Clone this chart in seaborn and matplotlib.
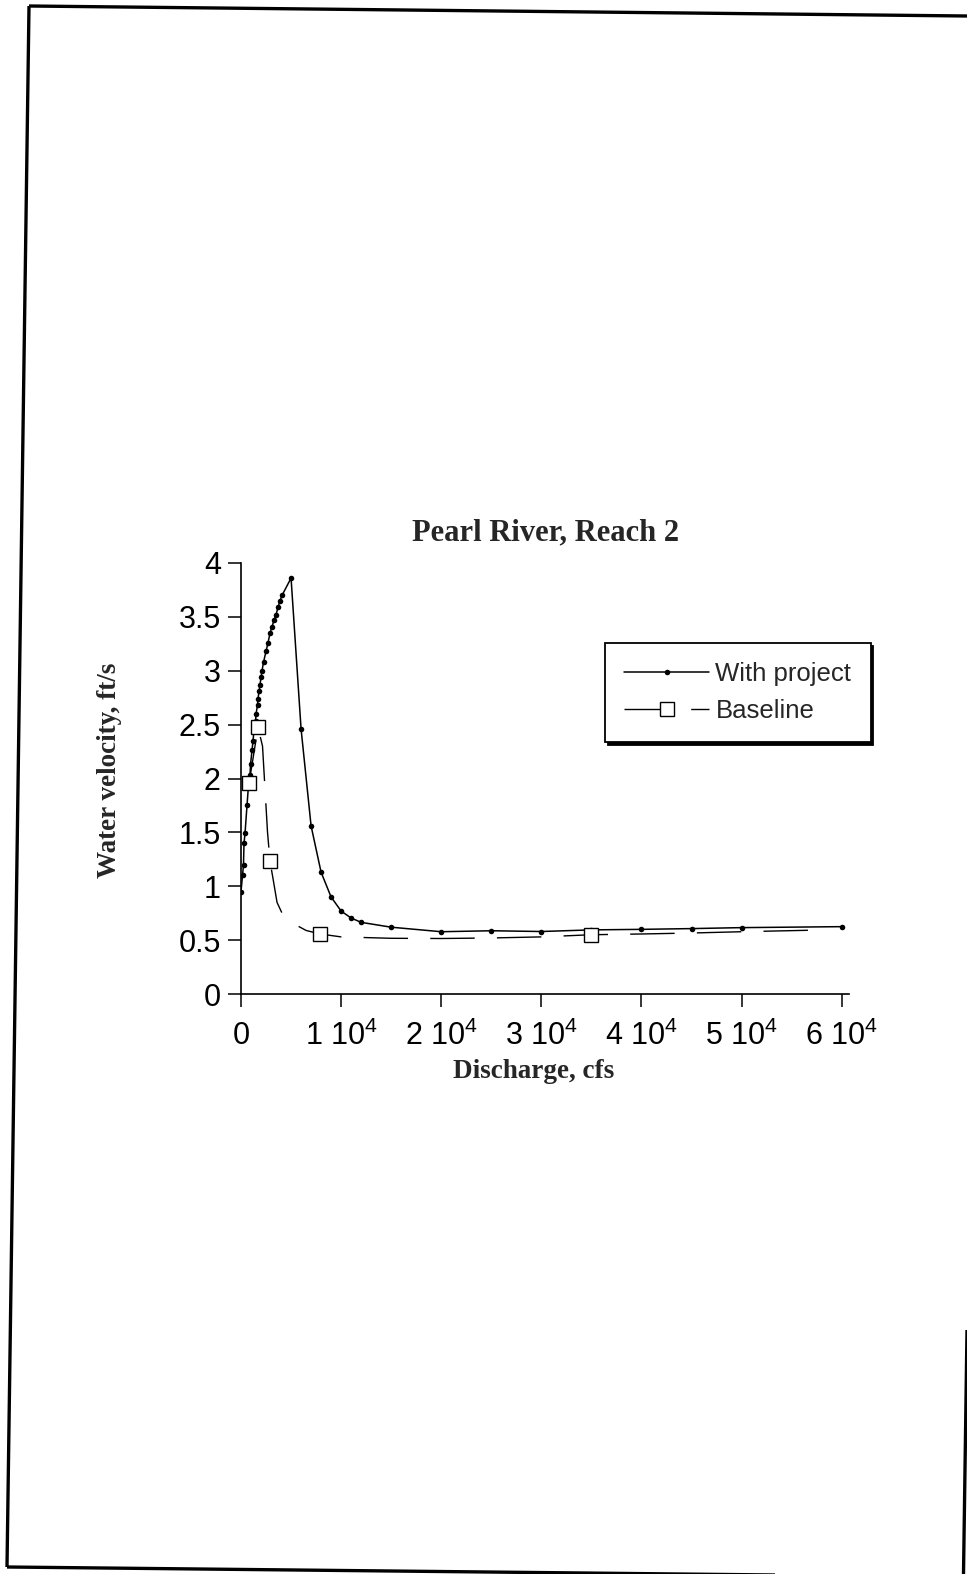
import matplotlib
matplotlib.use("Agg")
import matplotlib.pyplot as plt
from matplotlib.lines import Line2D
import seaborn as sns
import pandas as pd

# ---- data ----
proj_q = [0, 150, 250, 300, 400, 600, 750, 900, 950, 1100, 1200, 1300, 1450, 1500,
          1650, 1700, 1800, 1900, 2000, 2100, 2250, 2500, 2700, 2900, 3100, 3300,
          3500, 3700, 3900, 4100, 5000, 6000, 7000, 8000, 9000, 10000, 11000, 12000,
          15000, 20000, 25000, 30000, 35000, 40000, 45000, 50000, 60000]
proj_v = [0.95, 1.10, 1.20, 1.40, 1.49, 1.75, 1.94, 2.03, 2.13, 2.26, 2.35, 2.45, 2.53, 2.60,
          2.68, 2.74, 2.81, 2.87, 2.94, 3.00, 3.08, 3.18, 3.26, 3.35, 3.41, 3.47,
          3.52, 3.59, 3.65, 3.70, 3.86, 2.46, 1.56, 1.13, 0.90, 0.77, 0.705, 0.665,
          0.62, 0.578, 0.587, 0.58, 0.595, 0.60, 0.607, 0.616, 0.625]

base_q = [800, 1700, 2150, 2400, 2650, 2900, 3200, 3600, 4200, 5100, 6500, 7900,
          10000, 15000, 20000, 25000, 30000, 35000, 40000, 45000, 50000, 55000, 57000]
base_v = [1.955, 2.475, 2.30, 1.90, 1.50, 1.23, 1.07, 0.85, 0.73, 0.66, 0.59, 0.557,
          0.53, 0.517, 0.515, 0.52, 0.53, 0.55, 0.557, 0.566, 0.578, 0.588, 0.592]
base_marked = [0, 1, 5, 11, 17]

x_ticks = [0, 10000, 20000, 30000, 40000, 50000, 60000]
x_ticklabels = ["0", "1 10$^{4}$", "2 10$^{4}$", "3 10$^{4}$", "4 10$^{4}$", "5 10$^{4}$", "6 10$^{4}$"]
y_ticks = [0, 0.5, 1, 1.5, 2, 2.5, 3, 3.5, 4]
y_ticklabels = ["0", "0.5", "1", "1.5", "2", "2.5", "3", "3.5", "4"]

title = "Pearl River, Reach 2"
xlabel = "Discharge, cfs"
ylabel = "Water velocity, ft/s"
series_names = ["With project", "Baseline"]

# ---- style ----
sns.set_style("ticks")
plt.rcParams["font.family"] = ["Liberation Sans", "DejaVu Sans"]
plt.rcParams["mathtext.fontset"] = "custom"
plt.rcParams["mathtext.rm"] = "Liberation Sans"
plt.rcParams["mathtext.default"] = "regular"

W, H = 967, 1574
fig = plt.figure(figsize=(W / 100, H / 100), dpi=100)
fig.patch.set_facecolor("white")

def fx(px):
    return px / W

def fy(py):
    return 1 - py / H

ax = fig.add_axes([fx(241), fy(994), fx(848.7) - fx(241), fy(563) - fy(994)])
ax.set_facecolor("white")

df_p = pd.DataFrame({"q": proj_q, "v": proj_v})
df_b = pd.DataFrame({"q": base_q, "v": base_v})

sns.lineplot(data=df_p, x="q", y="v", ax=ax, sort=False, color="black", lw=1.1,
             marker="o", markersize=4.0, markeredgewidth=0, markerfacecolor="black")
sns.lineplot(data=df_b, x="q", y="v", ax=ax, sort=False, color="black", lw=1.0,
             dashes=False, marker="s", markersize=9.5, markerfacecolor="white",
             markeredgecolor="black", markeredgewidth=1.0, markevery=base_marked)
base_line = ax.lines[-1]
base_line.set_dashes([32, 16])

ax.set_xlim(0, 60700)
ax.set_ylim(0, 4)
ax.set_xticks(x_ticks)
ax.set_xticklabels(x_ticklabels)
ax.set_yticks(y_ticks)
ax.set_yticklabels(y_ticklabels)
ax.set_xlabel("")
ax.set_ylabel("")
for s in ["top", "right"]:
    ax.spines[s].set_visible(False)
for s in ["left", "bottom"]:
    ax.spines[s].set_linewidth(1.2)
    ax.spines[s].set_color("black")
ax.tick_params(axis="both", direction="out", length=9.5, width=1.1, colors="black",
               labelsize=22)
ax.tick_params(axis="x", pad=10)
ax.tick_params(axis="y", pad=5)

fig.text(fx(546), fy(533), title, ha="center", va="center", fontsize=22,
         family=["Liberation Serif"], fontweight="bold")
fig.text(fx(534), fy(1071), xlabel, ha="center", va="center", fontsize=19.5,
         family=["Liberation Serif"], fontweight="bold")
fig.text(fx(110), fy(770), ylabel, ha="center", va="center", fontsize=19.5,
         family=["Liberation Serif"], fontweight="bold", rotation=90)

leg_p = Line2D([], [], color="black", lw=1.1, marker="o", markersize=4.0,
               markeredgewidth=0)
leg_b = Line2D([], [], color="black", lw=1.0, marker="s", markersize=9.5,
               markerfacecolor="white", markeredgecolor="black", dashes=[32, 16])
leg = ax.legend([leg_p, leg_b], series_names, loc="upper left",
                bbox_to_anchor=(fx(605), fy(643)), bbox_transform=fig.transFigure,
                borderaxespad=0, frameon=True, fancybox=False,
                shadow={"color": "black", "alpha": 1}, edgecolor="black",
                framealpha=1, fontsize=18.5, handlelength=3.3, handletextpad=0.25,
                borderpad=0.75, labelspacing=0.5)
leg.get_frame().set_linewidth(1.3)

# scanned page frame
def frame_line(x0, y0, x1, y1, lw=2.4):
    fig.add_artist(Line2D([fx(x0), fx(x1)], [fy(y0), fy(y1)], transform=fig.transFigure,
                          color="black", lw=lw, solid_capstyle="butt"))

frame_line(29, 6, 967, 16)
frame_line(29, 6, 7, 1567)
frame_line(7, 1567, 967, 1577)
frame_line(967, 1330, 963.5, 1574)

fig.savefig("out.png", dpi=100, facecolor="white")
